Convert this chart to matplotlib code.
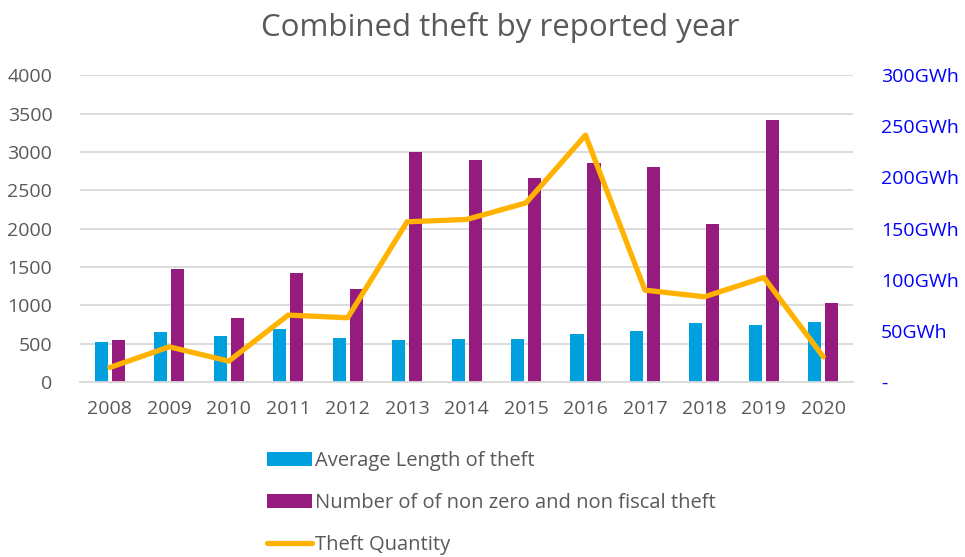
import matplotlib
matplotlib.use("Agg")
import matplotlib.pyplot as plt
import numpy as np
from matplotlib.ticker import FuncFormatter

years = ['2008', '2009', '2010', '2011', '2012', '2013', '2014',
         '2015', '2016', '2017', '2018', '2019', '2020']
avg_length = [525, 647, 595, 686, 577, 547, 564, 556, 625, 669, 769, 738, 782]
num_theft = [547, 1468, 834, 1420, 1207, 3001, 2893, 2654, 2857, 2797, 2067, 3414, 1029]
theft_gwh = [14.3, 34.5, 20.5, 65.5, 62.9, 156.7, 159, 175.2, 241.4, 89.9, 83.4, 102.3, 24.7]

plt.rcParams['font.family'] = ['Open Sans', 'DejaVu Sans']
grey = '#595959'

fig = plt.figure(figsize=(9.65, 5.57), dpi=100)
ax = fig.add_axes([0.083, 0.314, 0.801, 0.551])
ax2 = ax.twinx()

x = np.arange(len(years))
w = 0.22
b1 = ax.bar(x - 0.143, avg_length, w, color='#00A0DE', zorder=2,
            label='Average Length of theft')
b2 = ax.bar(x + 0.143, num_theft, w, color='#951B7E', zorder=2,
            label='Number of of non zero and non fiscal theft')
ln, = ax2.plot(x, theft_gwh, color='#FFB300', lw=3.8, solid_capstyle='round',
               label='Theft Quantity', zorder=3)

ax.set_xlim(-0.5, len(years) - 0.5)
ax.set_ylim(0, 4000)
ax.set_yticks(range(0, 4001, 500))
ax.set_xticks(x)
ax.set_xticklabels(years)
ax.grid(axis='y', color='#D9D9D9', lw=1.3, zorder=0)
ax.set_axisbelow(True)

# secondary axis in GWh, zero shown as a dash
ax2.set_ylim(0, 300)
ax2.set_yticks(range(0, 301, 50))
ax2.yaxis.set_major_formatter(FuncFormatter(lambda v, p: '-' if v == 0 else f'{int(v)}GWh'))

for a in (ax, ax2):
    for s in a.spines.values():
        s.set_visible(False)
ax.spines['bottom'].set_visible(True)
ax.spines['bottom'].set_color('#D9D9D9')
ax.spines['bottom'].set_linewidth(1.3)

ax.tick_params(axis='both', length=0, labelsize=14, labelcolor=grey)
ax.tick_params(axis='y', pad=20)
ax.tick_params(axis='x', pad=13)
ax2.tick_params(axis='y', length=0, labelsize=14, labelcolor='#0000FF', pad=20)

fig.suptitle('Combined theft by reported year', x=0.518, y=0.978, fontsize=22.5, color=grey)

fig.legend(handles=[b1, b2, ln], loc='center left', bbox_to_anchor=(0.277, 0.097),
           frameon=False, fontsize=14.5, labelcolor=grey, handlelength=2.2,
           handletextpad=0.15, labelspacing=1.1, borderaxespad=0, borderpad=0)

fig.savefig('out.png', dpi=100)
